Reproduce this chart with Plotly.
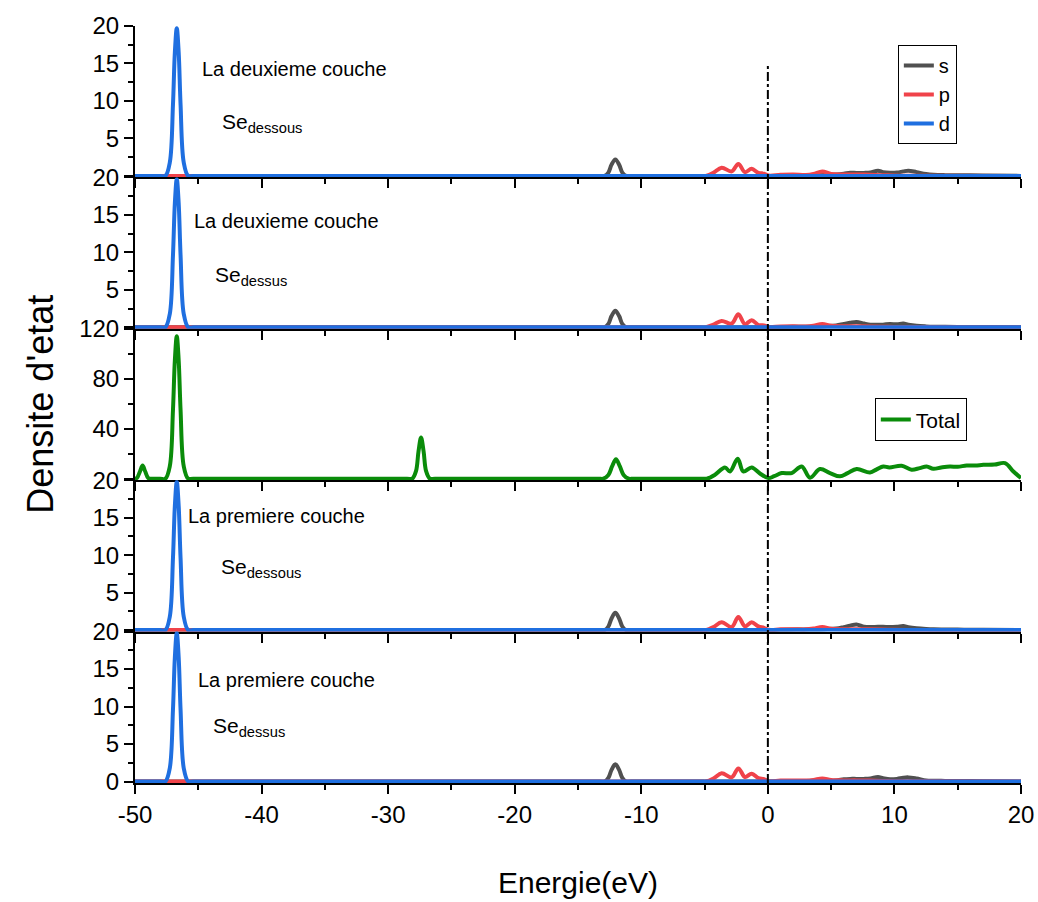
import plotly.graph_objects as go
from plotly.subplots import make_subplots

# ---------------- data ----------------
# s orbital
s_energy = [-50, -13.3, -12.9, -12.6, -12.35, -12.05, -11.75, -11.5, -11.2, -10.8, 0.0, 1.5, 3.0, 4.5,
            5.4, 6.0, 6.5, 7.0, 7.6, 8.1, 8.7, 9.1, 9.65, 10.2, 10.7, 11.1, 11.75, 12.5,
            13.1, 14.0, 15.5, 17.0, 20.0]
s_p1 = [0, 0, 0, 0.45, 1.5, 2.2, 1.5, 0.45, 0, 0, 0, 0.05, 0.08, 0.12,
        0.2, 0.3, 0.42, 0.4, 0.4, 0.45, 0.7, 0.5, 0.42, 0.45, 0.6, 0.7, 0.5, 0.25,
        0.15, 0.1, 0.08, 0.06, 0]
s_p2 = [0, 0, 0, 0.45, 1.5, 2.2, 1.5, 0.45, 0, 0, 0, 0.05, 0.08, 0.15,
        0.25, 0.45, 0.6, 0.72, 0.5, 0.35, 0.35, 0.35, 0.45, 0.4, 0.5, 0.35, 0.2, 0.12,
        0.08, 0.06, 0.05, 0.04, 0]
s_p4 = [0, 0, 0, 0.48, 1.55, 2.3, 1.55, 0.48, 0, 0, 0, 0.05, 0.08, 0.12,
        0.2, 0.4, 0.6, 0.75, 0.45, 0.4, 0.45, 0.45, 0.4, 0.45, 0.55, 0.4, 0.25, 0.15,
        0.1, 0.08, 0.06, 0.05, 0]
s_p5 = [0, 0, 0, 0.48, 1.55, 2.3, 1.55, 0.48, 0, 0, 0, 0.05, 0.08, 0.1,
        0.15, 0.3, 0.35, 0.35, 0.35, 0.4, 0.6, 0.45, 0.3, 0.35, 0.5, 0.55, 0.4, 0.15,
        0.1, 0.08, 0.06, 0.05, 0]

# p orbital
p_energy = [-50, -5.3, -4.9, -4.3, -3.65, -2.86, -2.33, -1.81, -1.28, -0.75, -0.3, 0.05, 1.0,
            2.0, 3.0, 3.6, 4.3, 5.0, 6.0, 7.0, 8.0, 9.5, 11.0, 20.0]
p_p1 = [0, 0, 0, 0.4, 1.1, 0.6, 1.6, 0.5, 0.95, 0.4, 0.3, 0.05, 0.15,
        0.2, 0.12, 0.25, 0.6, 0.25, 0.2, 0.2, 0.15, 0.08, 0.03, 0]
p_p2 = [0, 0, 0, 0.35, 0.85, 0.5, 1.75, 0.4, 0.95, 0.3, 0.25, 0.05, 0.12,
        0.15, 0.1, 0.2, 0.45, 0.2, 0.15, 0.15, 0.12, 0.06, 0.03, 0]
p_p4 = [0, 0, 0, 0.4, 1.05, 0.4, 1.75, 0.5, 1.05, 0.5, 0.3, 0.05, 0.1,
        0.12, 0.1, 0.2, 0.4, 0.18, 0.12, 0.12, 0.1, 0.05, 0.02, 0]
p_p5 = [0, 0, 0, 0.4, 1.1, 0.55, 1.75, 0.6, 1.05, 0.45, 0.3, 0.05, 0.12,
        0.15, 0.12, 0.2, 0.4, 0.2, 0.15, 0.15, 0.12, 0.06, 0.03, 0]

# d orbital
d_energy = [-50, -48.0, -47.6, -47.25, -47.0, -46.85, -46.7, -46.55, -46.4, -46.15, -45.8, -45.4, 20.0]
d_p1 = [0, 0, 0, 1.8, 9.5, 16.5, 19.7, 16.5, 9.5, 1.8, 0, 0, 0]
d_p2 = [0, 0, 0, 1.8, 9.6, 16.6, 19.8, 16.6, 9.6, 1.8, 0, 0, 0]
d_p4 = [0, 0, 0, 1.8, 9.6, 16.6, 19.8, 16.6, 9.6, 1.8, 0, 0, 0]
d_p5 = [0, 0, 0, 1.8, 9.6, 16.6, 19.8, 16.6, 9.6, 1.8, 0, 0, 0]

# total DOS
total_energy = [-50, -49.85, -49.6, -49.4, -49.2, -48.95, -48.6,
                -48.0, -47.6, -47.25, -47.0, -46.85, -46.7, -46.55, -46.4, -46.15, -45.8, -45.4,
                -28.5, -28.1, -27.8, -27.6, -27.4, -27.2, -27.0, -26.7, -26.3,
                -13.4, -13.0, -12.6, -12.3, -12.0, -11.7, -11.4, -11.0, -10.6,
                -5.2, -4.83, -4.2, -3.39, -2.99, -2.38, -1.94, -1.28, -0.6, 0.04, 0.5,
                1.09, 1.88, 2.67, 3.33, 4.12, 4.91, 5.70, 6.3, 7.02, 8.07, 8.6,
                9.12, 9.6, 10.57, 11.36, 12.0, 12.55, 13.07, 13.7, 14.39, 15.0,
                15.71, 16.4, 17.02, 17.9, 18.74, 19.4, 20.0]
total_dos = [0, 0.5, 6, 10.5, 6, 0.5, 0,
             0, 0, 10, 55, 95, 114, 95, 55, 10, 0, 0,
             0, 0, 6, 22, 33, 22, 6, 0, 0,
             0, 0, 3, 10, 15.5, 10, 3, 0, 0,
             0, 0, 3, 9, 5.8, 16, 5.8, 9, 4, 0.5, 2,
             4.5, 4.5, 9.8, 0.8, 7.7, 4.5, 1.9, 4.5, 7.7, 5.0, 7.5,
             9.8, 9.0, 10.3, 7.2, 8.5, 9.8, 7.9, 9.0, 9.8, 9.5,
             10.6, 10.5, 11.1, 11.3, 12.5, 5.8, 0.5]

orbital_names = ["s", "p", "d"]
panel_labels = ["La deuxieme couche", "La deuxieme couche", "La premiere couche", "La premiere couche"]
panel_species = ["Se<sub>dessous</sub>", "Se<sub>dessus</sub>", "Se<sub>dessous</sub>", "Se<sub>dessus</sub>"]
x_ticks = [-50, -40, -30, -20, -10, 0, 10, 20]
x_ticklabels = ["-50", "-40", "-30", "-20", "-10", "0", "10", "20"]
x_title = "Energie(eV)"
y_title = "Densite d'etat"

# ---------------- styling ----------------
FONT = "Liberation Sans, Arial, sans-serif"
COL_S = "#505050"
COL_P = "#f0434a"
COL_D = "#1f6fe0"
COL_T = "#0a8c0a"
LW = 4

pdos_panels = [
    (1, s_p1, p_p1, d_p1),
    (2, s_p2, p_p2, d_p2),
    (4, s_p4, p_p4, d_p4),
    (5, s_p5, p_p5, d_p5),
]

fig = make_subplots(rows=5, cols=1, shared_xaxes=True, vertical_spacing=0)

for k, (row, s_vals, p_vals, d_vals) in enumerate(pdos_panels):
    first = (k == 0)
    for name, xs, ys, col in ((orbital_names[0], s_energy, s_vals, COL_S),
                              (orbital_names[1], p_energy, p_vals, COL_P),
                              (orbital_names[2], d_energy, d_vals, COL_D)):
        fig.add_trace(go.Scatter(x=xs, y=ys, mode="lines", name=name,
                                 line=dict(color=col, width=LW, shape="spline"),
                                 showlegend=first, legend="legend"),
                      row=row, col=1)

fig.add_trace(go.Scatter(x=total_energy, y=total_dos, mode="lines", name="Total",
                         line=dict(color=COL_T, width=LW, shape="spline"),
                         showlegend=True, legend="legend2"),
              row=3, col=1)

axis_common = dict(showline=True, linecolor="black", linewidth=2, ticks="outside",
                   tickcolor="black", tickwidth=2, showgrid=False, zeroline=False,
                   automargin=False,
                   tickfont=dict(family=FONT, size=24, color="black"))

for r in range(1, 6):
    fig.update_xaxes(range=[-50, 20], tickvals=x_ticks, ticktext=x_ticklabels, ticklen=9,
                     minor=dict(ticks="outside", ticklen=5, tickwidth=2, tickcolor="black",
                                dtick=5, showgrid=False),
                     showticklabels=(r == 5), **axis_common, row=r, col=1)

for r in (1, 2, 4, 5):
    fig.update_yaxes(range=[-0.2, 20], tickvals=[0, 5, 10, 15, 20],
                     ticktext=[("0" if r == 5 else ""), "5", "10", "15", "20"], ticklen=9,
                     minor=dict(ticks="outside", ticklen=5, tickwidth=2, tickcolor="black",
                                tickvals=[2.5, 7.5, 12.5, 17.5], showgrid=False),
                     **axis_common, row=r, col=1)
fig.update_yaxes(range=[-1.2, 120], tickvals=[0, 40, 80, 120], ticktext=["", "40", "80", "120"],
                 ticklen=9,
                 minor=dict(ticks="outside", ticklen=5, tickwidth=2, tickcolor="black",
                            tickvals=[20, 60, 100], showgrid=False),
                 **axis_common, row=3, col=1)

fig.update_xaxes(title=dict(text=x_title, font=dict(family=FONT, size=30, color="black"),
                            standoff=45), row=5, col=1)

# panel annotations (text positions in data units of each panel)
label_pos = [(1, -44.9, 14.3, -43.3, 7.0), (2, -45.5, 14.2, -43.8, 6.9),
             (4, -45.95, 15.2, -43.4, 8.3), (5, -45.2, 13.6, -44.0, 7.3)]
yrefs = {1: "y", 2: "y2", 3: "y3", 4: "y4", 5: "y5"}
for k, (row, lx, ly, sx, sy) in enumerate(label_pos):
    fig.add_annotation(x=lx, y=ly, xref="x" if row == 1 else f"x{row}", yref=yrefs[row],
                       text=panel_labels[k], showarrow=False, xanchor="left", yanchor="middle",
                       font=dict(family=FONT, size=20, color="black"))
    fig.add_annotation(x=sx, y=sy, xref="x" if row == 1 else f"x{row}", yref=yrefs[row],
                       text=panel_species[k], showarrow=False, xanchor="left", yanchor="middle",
                       font=dict(family=FONT, size=21, color="black"))

fig.add_annotation(x=-0.107, y=0.5, xref="paper", yref="paper", text=y_title,
                   textangle=-90, showarrow=False, xanchor="center", yanchor="middle",
                   font=dict(family=FONT, size=36, color="black"))

# Fermi level reference line
fig.add_shape(type="line", xref="x5", yref="paper", x0=0, x1=0, y0=0, y1=0.948,
              line=dict(color="black", width=2, dash="dashdot"), layer="above")

fig.update_layout(
    width=1038, height=902,
    margin=dict(l=135, r=17, t=26, b=119, autoexpand=False),
    paper_bgcolor="white", plot_bgcolor="white",
    font=dict(family=FONT, color="black"),
    legend=dict(x=0.861, y=0.975, xanchor="left", yanchor="top", bgcolor="white",
                bordercolor="black", borderwidth=1, tracegroupgap=0,
                font=dict(family=FONT, size=20, color="black")),
    legend2=dict(x=0.835, y=0.508, xanchor="left", yanchor="top", bgcolor="white",
                 bordercolor="black", borderwidth=1,
                 font=dict(family=FONT, size=21, color="black")),
)

fig.write_html("out.html")
